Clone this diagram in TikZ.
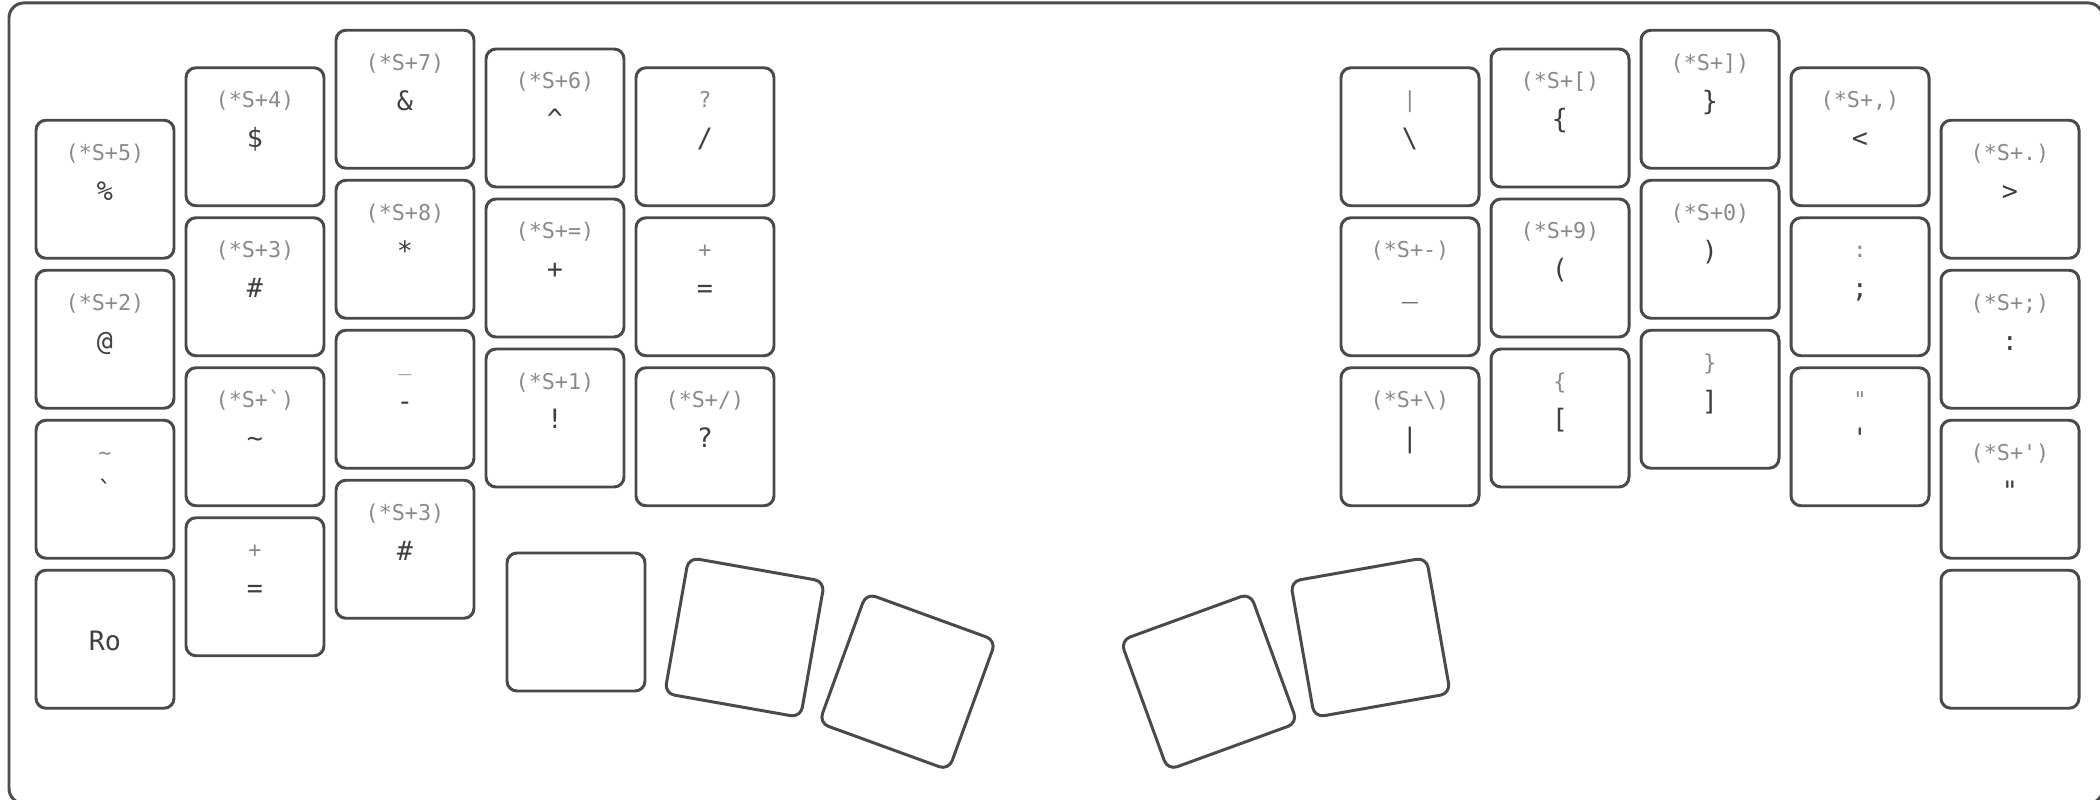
\documentclass[tikz,border=0pt]{standalone}
\usepackage{fontspec}
\setmonofont{DejaVu Sans Mono}
\definecolor{caseline}{RGB}{77,77,77}
\definecolor{keyline}{RGB}{74,74,74}
\definecolor{shiftgray}{RGB}{138,138,138}
\definecolor{legendgray}{RGB}{64,64,64}

\begin{document}
\begin{tikzpicture}[
    x=1.5cm, y=1.5cm,
    key/.style={draw=keyline, line width=.85pt, rounded corners=.1cm,
        minimum width=1.38cm, minimum height=1.38cm, inner sep=0pt},
    shifted/.style={font=\ttfamily\fontsize{6.2}{7}\selectfont,
        text=shiftgray, anchor=base, inner sep=0pt},
    legend/.style={font=\ttfamily\fontsize{7.6}{9}\selectfont,
        text=legendgray, anchor=base, inner sep=0pt},
]
    \useasboundingbox (0, 0) rectangle (14, 5.3267);

    %% the case, running off the page on the right and at the bottom
    \draw[caseline, line width=.85pt, rounded corners=.15cm]
        (.06, -.03) rectangle (14.02, 5.307);

    %% left half, one loop per column, top key first
    \foreach \r/\s/\m in {0/(*S+5)/\%, 1/(*S+2)/@,
        2/\textasciitilde/\textasciigrave, 3//Ro} {
        \node[key] (L0\r) at (.7, 4.065-\r) {};
        \node[shifted] (L0\r-s) at ([yshift=.29cm]L0\r.center) {\s};
        \node[legend] (L0\r-m) at ([yshift=-.11cm]L0\r.center) {\m};
    }
    \foreach \r/\s/\m in {0/(*S+4)/\$, 1/(*S+3)/\#,
        2/(*S+\textasciigrave)/\textasciitilde, 3/+/=} {
        \node[key] (L1\r) at (1.7, 4.415-\r) {};
        \node[shifted] (L1\r-s) at ([yshift=.29cm]L1\r.center) {\s};
        \node[legend] (L1\r-m) at ([yshift=-.11cm]L1\r.center) {\m};
    }
    \foreach \r/\s/\m in {0/(*S+7)/\&, 1/(*S+8)/*, 2/\_/-, 3/(*S+3)/\#} {
        \node[key] (L2\r) at (2.7, 4.665-\r) {};
        \node[shifted] (L2\r-s) at ([yshift=.29cm]L2\r.center) {\s};
        \node[legend] (L2\r-m) at ([yshift=-.11cm]L2\r.center) {\m};
    }
    \foreach \r/\s/\m in {0/(*S+6)/\textasciicircum, 1/(*S+=)/+, 2/(*S+1)/!} {
        \node[key] (L3\r) at (3.7, 4.54-\r) {};
        \node[shifted] (L3\r-s) at ([yshift=.29cm]L3\r.center) {\s};
        \node[legend] (L3\r-m) at ([yshift=-.11cm]L3\r.center) {\m};
    }
    \foreach \r/\s/\m in {0/?/{/}, 1/+/=, 2/{(*S+/)}/?} {
        \node[key] (L4\r) at (4.7, 4.415-\r) {};
        \node[shifted] (L4\r-s) at ([yshift=.29cm]L4\r.center) {\s};
        \node[legend] (L4\r-m) at ([yshift=-.11cm]L4\r.center) {\m};
    }

    %% right half
    \foreach \r/\s/\m in {0/\textbar/\textbackslash, 1/(*S+-)/\_,
        2/(*S+\textbackslash)/\textbar} {
        \node[key] (R5\r) at (9.4, 4.415-\r) {};
        \node[shifted] (R5\r-s) at ([yshift=.29cm]R5\r.center) {\s};
        \node[legend] (R5\r-m) at ([yshift=-.11cm]R5\r.center) {\m};
    }
    \foreach \r/\s/\m in {0/(*S+[)/\{, 1/(*S+9)/(, 2/\{/[} {
        \node[key] (R6\r) at (10.4, 4.54-\r) {};
        \node[shifted] (R6\r-s) at ([yshift=.29cm]R6\r.center) {\s};
        \node[legend] (R6\r-m) at ([yshift=-.11cm]R6\r.center) {\m};
    }
    \foreach \r/\s/\m in {0/(*S+])/\}, 1/(*S+0)/), 2/\}/]} {
        \node[key] (R7\r) at (11.4, 4.665-\r) {};
        \node[shifted] (R7\r-s) at ([yshift=.29cm]R7\r.center) {\s};
        \node[legend] (R7\r-m) at ([yshift=-.11cm]R7\r.center) {\m};
    }
    \foreach \r/\s/\m in {0/{(*S+,)}/\textless, 1/:/;,
        2/\textquotedbl/\textquotesingle} {
        \node[key] (R8\r) at (12.4, 4.415-\r) {};
        \node[shifted] (R8\r-s) at ([yshift=.29cm]R8\r.center) {\s};
        \node[legend] (R8\r-m) at ([yshift=-.11cm]R8\r.center) {\m};
    }
    \foreach \r/\s/\m in {0/(*S+.)/\textgreater, 1/(*S+;)/:,
        2/(*S+\textquotesingle)/\textquotedbl, 3//} {
        \node[key] (R9\r) at (13.4, 4.065-\r) {};
        \node[shifted] (R9\r-s) at ([yshift=.29cm]R9\r.center) {\s};
        \node[legend] (R9\r-m) at ([yshift=-.11cm]R9\r.center) {\m};
    }

    %% thumb clusters, fanned out
    \node[key] (LT1) at (3.84, 1.18) {};
    \node[key, rotate=-10] (LT2) at (4.964, 1.077) {};
    \node[key, rotate=-20] (LT3) at (6.05, .782) {};
    \node[key, rotate=10] (RT1) at (9.136, 1.077) {};
    \node[key, rotate=20] (RT2) at (8.06, .782) {};
\end{tikzpicture}
\end{document}
